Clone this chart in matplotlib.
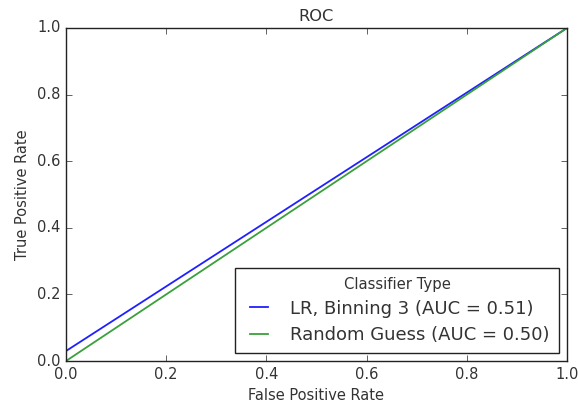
import matplotlib
matplotlib.use('Agg')
import matplotlib.pyplot as plt

# ROC points
fpr_lr = [0.0, 0.0, 1.0]
tpr_lr = [0.0, 0.03, 1.0]
fpr_rand = [0.0, 1.0]
tpr_rand = [0.0, 1.0]
auc_lr = 0.51
auc_rand = 0.50

plt.style.use('classic')
txt = '#333333'
plt.rcParams['text.color'] = txt
plt.rcParams['axes.labelcolor'] = txt
plt.rcParams['xtick.color'] = '#222222'
plt.rcParams['ytick.color'] = '#222222'
plt.rcParams['axes.edgecolor'] = '#222222'

fig = plt.figure(figsize=(5.78, 4.08), dpi=100, facecolor='white')
ax = fig.add_axes([66/578, 1-361/408, (567-66)/578, (361-28)/408])

ax.plot(fpr_lr, tpr_lr, color='#2020ff', lw=1.3, label='LR, Binning 3 (AUC = %.2f)' % auc_lr)
ax.plot(fpr_rand, tpr_rand, color='#3aa03a', lw=1.3, label='Random Guess (AUC = %.2f)' % auc_rand)

ax.set_xlim(0, 1)
ax.set_ylim(0, 1)
ax.set_xticks([0, 0.2, 0.4, 0.6, 0.8, 1.0])
ax.set_yticks([0, 0.2, 0.4, 0.6, 0.8, 1.0])
ax.tick_params(labelsize=10.5, labelcolor=txt)
ax.set_xlabel('False Positive Rate', fontsize=10.5)
ax.set_ylabel('True Positive Rate', fontsize=10.5)
ax.set_title('ROC', fontsize=11.7)

leg = ax.legend(loc='lower right', title='Classifier Type', fontsize=13,
                handlelength=1.6, handletextpad=0.95, borderpad=0.5,
                labelspacing=0.45, borderaxespad=0.45)
leg.get_title().set_fontsize(10.7)
leg.get_frame().set_edgecolor('#222222')

fig.savefig('out.png', dpi=100, facecolor='white')
